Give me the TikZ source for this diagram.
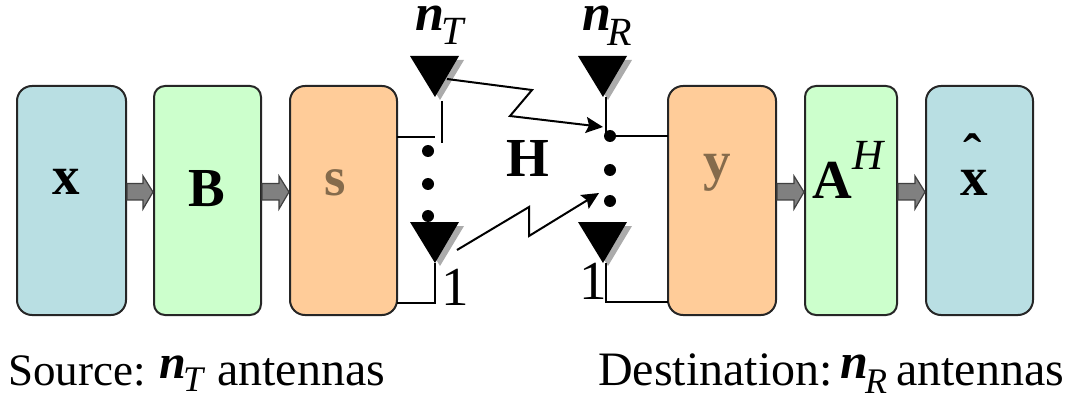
\documentclass[tikz,border=0pt]{standalone}
\usepackage{fontspec}
\setmainfont{Liberation Serif}
\usetikzlibrary{arrows.meta,calc}
\definecolor{bluebox}{HTML}{B9DFE3}
\definecolor{greenbox}{HTML}{CCFFCC}
\definecolor{orangebox}{HTML}{FFCC99}
\definecolor{brownlabel}{HTML}{856B4C}
\newcommand{\fsz}[1]{\fontsize{#1}{#1}\selectfont}
\newcommand{\flowarrow}[2]{\path[flowarr] ($(#1.east)+(0,0.5pt)$) -- ($(#1.east)+(0,17pt)$) -- ($(#2.west)+(-10pt,17pt)$) -- ($(#2.west)+(-10pt,24.5pt)$) -- ($(#2.west)+(0,8.5pt)$) -- ($(#2.west)+(-10pt,-8.5pt)$) -- ($(#2.west)+(-10pt,0.5pt)$) -- cycle;}
\tikzset{
  x=1pt,y=-1pt,
  blockbox/.style={draw=black!85,line width=2pt,minimum height=229pt,inner sep=0pt,anchor=center},
  bigbox/.style={blockbox,rounded corners=15pt},
  midbox/.style={blockbox,rounded corners=11pt},
  flowarr/.style={fill=black!50,draw=black!75,line width=1.2pt,line join=miter},
  wire/.style={draw=black,line width=2.5pt},
  linkarr/.style={draw=black,line width=2pt,-{Stealth[length=17pt,width=16pt,inset=3pt]}},
  dotmark/.style={circle,fill=black,inner sep=0pt,minimum size=12pt},
  lbl/.style={anchor=base,inner sep=0pt,font=\fsz{55}\bfseries},
  basew/.style={anchor=base west,inner sep=0pt},
  antshadow/.style={fill=black!33},
  antbody/.style={fill=black},
}
\begin{document}
\begin{tikzpicture}
\useasboundingbox (0,0) rectangle (1077,401);
% boxes
\node[bigbox,fill=bluebox,minimum width=109pt] (xin) at (71.5,200.5) {};
\node[midbox,fill=greenbox,minimum width=107pt] (bmat) at (207.5,200.5) {};
\node[bigbox,fill=orangebox,minimum width=107pt] (sbox) at (343.5,200.5) {};
\node[bigbox,fill=orangebox,minimum width=108pt] (ybox) at (722,200.5) {};
\node[midbox,fill=greenbox,minimum width=92pt] (amat) at (851,200.5) {};
\node[bigbox,fill=bluebox,minimum width=107pt] (xout) at (979.5,200.5) {};
% block arrows
\flowarrow{xin}{bmat}
\flowarrow{bmat}{sbox}
\flowarrow{ybox}{amat}
\flowarrow{amat}{xout}
% box labels
\node[lbl] (lx) at (66,194) {x};
\node[lbl] (lb) at (207,207) {B};
\node[lbl,text=brownlabel] (ls) at (335,196) {s};
\node[lbl,text=brownlabel] (ly) at (717,179) {y};
\node[lbl] (la) at (832,198) {A};
\node[anchor=base,inner sep=0pt,font=\fsz{43}\itshape] (lh) at (868,170) {H};
\node[lbl] (lxh) at (974,196) {x};
\node[lbl] (lhat) at (973,173) {ˆ};
% antennas (apex positions)
\coordinate (t1) at (435,263);
\coordinate (tn) at (435,97);
\coordinate (r1) at (603,263);
\coordinate (rn) at (603,97);
\foreach \a in {t1,tn,r1,rn}{
  \fill[antshadow] ($(\a)+(5,3)$) -- ++(-24,-40) -- ++(48,0) -- cycle;
  \fill[antbody] (\a) -- ++(-25,-41) -- ++(49,0) -- cycle;
}
% source side wiring
\coordinate (stop) at (397,137);
\coordinate (stopend) at (435,137);
\coordinate (sbot) at (397,303);
\coordinate (tnfoot) at (442,101);
\coordinate (tnend) at (442,143);
\draw[wire] (stop) -- (stopend);
\draw[wire] (tnfoot) -- (tnend);
\draw[wire] (sbot) -- (sbot -| t1) -- (t1);
\node[dotmark] (d1) at (428,151) {};
\node[dotmark] (d2) at (428,184) {};
\node[dotmark] (d3) at (428,216) {};
% destination side wiring
\node[dotmark] (d4) at (610,136) {};
\node[dotmark] (d5) at (610,170) {};
\node[dotmark] (d6) at (610,201) {};
\coordinate (ytop) at (668,136);
\coordinate (ybot) at (668,302);
\coordinate (rnfoot) at (606,97);
\coordinate (r1foot) at (606,263);
\draw[wire] (rnfoot) -- (rnfoot |- d4);
\draw[wire] (d4.center) -- (ytop);
\draw[wire] (r1foot) -- (r1foot |- ybot) -- (ybot);
% radio links
\coordinate (la1) at (447,79);
\coordinate (la2) at (532,90);
\coordinate (la3) at (510,116);
\coordinate (la4) at (603,127);
\coordinate (lb1) at (457,250);
\coordinate (lb2) at (529,207);
\coordinate (lb3) at (529,236);
\coordinate (lb4) at (599,193);
\draw[linkarr] (la1) -- (la2) -- (la3) -- (la4);
\draw[linkarr] (lb1) -- (lb2) -- (lb3) -- (lb4);
% antenna labels
\node[basew,font=\fsz{52}\bfseries\itshape] (nt) at (415,31) {n};
\node[basew,font=\fsz{40}\itshape] (ntt) at (441,45) {T};
\node[basew,font=\fsz{52}\bfseries\itshape] (nr) at (582,31) {n};
\node[basew,font=\fsz{40}\itshape] (nrr) at (607,46) {R};
\node[basew,font=\fsz{55}] (one1) at (441,305) {1};
\node[basew,font=\fsz{55}] (one2) at (579,299) {1};
\node[lbl] (hm) at (527.5,177) {H};
% captions
\node[basew,font=\fsz{45}] (c1) at (8,385) {Source:};
\node[basew,font=\fsz{48}\bfseries\itshape] (c2) at (159,378) {n};
\node[basew,font=\fsz{36}\itshape] (c3) at (183,391) {T};
\node[basew,font=\fsz{48}] (c4) at (217,385) {antennas};
\node[basew,font=\fsz{48}] (c5) at (598,385) {Destination:};
\node[basew,font=\fsz{50}\bfseries\itshape] (c6) at (840,378) {n};
\node[basew,font=\fsz{36}\itshape] (c7) at (865,393) {R};
\node[basew,font=\fsz{48}] (c8) at (896,385) {antennas};
\end{tikzpicture}
\end{document}
